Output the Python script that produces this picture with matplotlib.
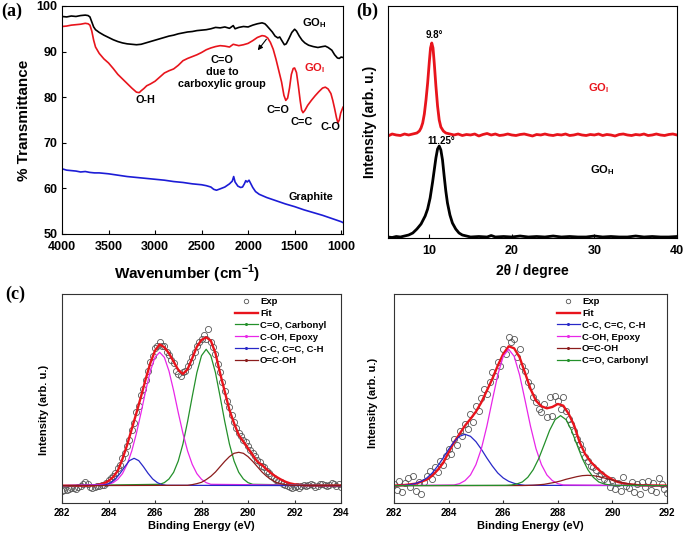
import numpy as np
import matplotlib
matplotlib.use('Agg')
import matplotlib.pyplot as plt
from matplotlib.lines import Line2D

plt.rcParams.update({
    'font.family': 'Liberation Sans',
    'font.weight': 'bold',
    'axes.labelweight': 'bold',
    'mathtext.fontset': 'custom',
    'mathtext.rm': 'Liberation Sans:bold',
    'mathtext.bf': 'Liberation Sans:bold',
    'xtick.direction': 'in',
    'ytick.direction': 'in',
})

# ---------------- (a) FTIR ----------------
wn_goh = [4000, 3950, 3900, 3850, 3800, 3750, 3720, 3700, 3680, 3660, 3640, 3600, 3550, 3500,
          3450, 3400, 3350, 3300, 3250, 3200, 3150, 3100, 3050, 3000, 2950, 2900, 2850, 2800,
          2750, 2700, 2650, 2600, 2550, 2500, 2450, 2400, 2350, 2300, 2250, 2200, 2160, 2140,
          2100, 2050, 2000, 1950, 1900, 1850, 1820, 1800, 1770, 1740, 1710, 1680, 1660, 1640,
          1610, 1590, 1560, 1530, 1500, 1480, 1450, 1420, 1390, 1350, 1300, 1250, 1200, 1170,
          1140, 1100, 1070, 1040, 1020, 1000, 980]
t_goh = [97.7, 97.6, 97.8, 97.7, 97.9, 98.0, 97.9, 97.6, 96.5, 95.4, 94.8, 94.2, 93.6, 93.1,
         92.6, 92.2, 91.9, 91.7, 91.6, 91.5, 91.6, 91.9, 92.2, 92.5, 92.8, 93.1, 93.4, 93.6,
         93.9, 94.1, 94.3, 94.4, 94.6, 94.7, 94.8, 95.0, 95.3, 95.2, 95.4, 95.1, 95.7, 95.0,
         95.3, 95.5, 95.4, 95.8, 96.1, 96.3, 96.1, 95.7, 95.0, 94.3, 93.4, 93.0, 93.2, 92.5,
         91.5, 91.7, 92.9, 94.2, 94.9, 94.5, 93.4, 92.5, 91.9, 91.4, 91.1, 90.9, 91.1, 91.2,
         90.9, 90.3, 89.3, 88.6, 88.5, 88.8, 88.7]

wn_goi = [4000, 3950, 3900, 3850, 3800, 3750, 3720, 3700, 3680, 3660, 3640, 3600, 3550, 3500,
          3450, 3400, 3350, 3300, 3250, 3200, 3170, 3150, 3120, 3090, 3050, 3000, 2950, 2900,
          2850, 2800, 2750, 2700, 2650, 2600, 2550, 2500, 2450, 2400, 2350, 2300, 2250, 2200,
          2160, 2100, 2050, 2000, 1950, 1900, 1850, 1820, 1790, 1760, 1730, 1700, 1670, 1640,
          1615, 1595, 1575, 1555, 1535, 1515, 1500, 1480, 1460, 1440, 1425, 1410, 1390, 1360,
          1320, 1280, 1240, 1200, 1170, 1140, 1110, 1090, 1070, 1050, 1035, 1020, 1005, 990, 980]
t_goi = [95.5, 95.6, 95.8, 95.9, 96.0, 96.2, 96.1, 95.8, 94.5, 92.5, 91.0, 89.6, 88.4, 87.5,
         86.3, 85.0, 84.0, 83.0, 82.0, 81.1, 81.0, 81.4, 81.9, 82.5, 82.9, 83.5, 84.4, 85.3,
         85.8, 86.2, 87.0, 88.0, 88.5, 88.9, 89.3, 89.8, 90.4, 90.8, 91.1, 91.3, 91.2, 91.0,
         91.6, 91.3, 91.5, 91.8, 92.4, 93.1, 93.5, 93.4, 93.0, 92.0, 90.5, 88.3, 85.8, 83.3,
         80.4, 79.3, 79.8, 82.0, 85.0, 86.3, 86.4, 85.4, 82.5, 79.2, 77.2, 76.6, 77.1, 78.2,
         79.3, 80.3, 81.2, 82.0, 82.2, 81.8, 80.8, 79.3, 77.5, 75.5, 74.4, 75.0, 76.5, 77.3, 77.8]

wn_gr = [4000, 3950, 3900, 3850, 3800, 3750, 3700, 3650, 3600, 3500, 3400, 3300, 3200, 3100,
         3000, 2900, 2800, 2700, 2600, 2500, 2450, 2400, 2370, 2340, 2300, 2250, 2200, 2170,
         2155, 2140, 2110, 2080, 2060, 2040, 2025, 2010, 1990, 1975, 1950, 1920, 1880, 1800,
         1700, 1600, 1500, 1400, 1300, 1200, 1100, 1000, 980]
t_gr = [64.3, 64.0, 63.9, 63.8, 63.6, 63.7, 63.5, 63.4, 63.4, 63.2, 62.9, 62.6, 62.4, 62.2,
        62.0, 61.8, 61.5, 61.3, 61.0, 60.8, 60.6, 60.3, 59.8, 59.6, 59.9, 60.3, 61.0, 61.6,
        62.6, 61.4, 60.5, 60.2, 60.3, 61.0, 61.7, 61.4, 61.8, 61.2, 60.2, 59.3, 58.7, 58.0,
        57.3, 56.6, 56.0, 55.3, 54.7, 54.1, 53.4, 52.7, 52.5]

# ---------------- (b) XRD ----------------
tt_goi = [5.0, 5.5, 6.0, 6.5, 7.0, 7.5, 8.0, 8.5, 8.8, 9.0, 9.2, 9.4, 9.6, 9.8, 10.0, 10.15,
          10.3, 10.45, 10.6, 10.8, 11.0, 11.2, 11.4, 11.7, 12.0, 12.5, 13.0, 13.5, 14.0, 14.5,
          15.0, 15.5, 16.0, 16.5, 17.0, 17.5, 18.0, 18.5, 19.0, 19.5, 20.0, 20.5, 21.0, 21.5,
          22.0, 22.5, 23.0, 23.5, 24.0, 24.5, 25.0, 25.5, 26.0, 26.5, 27.0, 27.5, 28.0, 28.5,
          29.0, 29.5, 30.0, 30.5, 31.0, 31.5, 32.0, 32.5, 33.0, 33.5, 34.0, 34.5, 35.0, 35.5,
          36.0, 36.5, 37.0, 37.5, 38.0, 38.5, 39.0, 39.5, 40.0]
i_goi = [102, 104, 103, 102.5, 104, 103, 104, 105, 107, 110, 115, 124, 138, 155, 176, 190,
         195, 190, 175, 152, 132, 118, 111, 107, 105, 104, 103, 104, 102.5, 103.5,
         103, 104, 102, 103.5, 104.5, 103, 104, 102.5, 103, 104, 103, 102.5, 103.5, 104,
         103, 102, 103.5, 103, 104, 103, 102.5, 103.5, 103, 104, 102.5, 103, 104, 103,
         102.5, 103.5, 103, 104, 102.5, 103.5, 103, 102, 103.5, 104, 103, 102.5, 103.5, 103,
         104, 102.5, 103, 104, 103, 102.5, 103.5, 104, 103]

tt_goh = [5.0, 5.5, 6.0, 6.5, 7.0, 7.5, 8.0, 8.5, 9.0, 9.5, 9.8, 10.1, 10.4, 10.6, 10.8, 11.0,
          11.2, 11.4, 11.6, 11.8, 12.0, 12.2, 12.5, 12.8, 13.2, 13.6, 14.0, 14.5, 15.0, 16.0,
          17.0, 17.5, 18.0, 19.0, 20.0, 21.0, 22.0, 23.0, 24.0, 25.0, 26.0, 27.0, 28.0, 29.0,
          30.0, 31.0, 32.0, 33.0, 34.0, 35.0, 36.0, 37.0, 38.0, 39.0, 40.0]
i_goh = [1, 0.5, 1.5, 1, 2, 3, 5, 9, 14, 22, 29, 40, 56, 68, 80, 89,
         92, 88, 78, 62, 47, 35, 23, 15, 9, 5, 3, 2, 1, 1.5,
         1, 2.5, 1, 1.5, 1, 2, 1, 1.5, 1, 2, 1, 1.5, 1, 1, 2, 1, 1.5, 1, 1, 2, 1, 1.5, 1, 1, 1.5]

# ---------------- (c) XPS, left ----------------
e_exp_l = [round(282 + 0.1 * k, 1) for k in range(121)]
i_exp_l = [-15, -12, -14, -10, -8, -6, -9, -4, 0, 6, 10, 4, -3, -8, -4, -2, -1, 2, 3, 8,
           16, 22, 30, 38, 52, 62, 82, 98, 118, 138, 168, 188, 222, 240, 272, 290, 318, 345, 372, 388,
           412, 418, 432, 418, 420, 400, 392, 378, 368, 345, 335, 328, 340, 345, 358, 370, 385, 400, 420, 430,
           440, 452, 440, 469, 430, 415, 395, 365, 340, 310, 285, 255, 235, 212, 192, 172, 158, 150, 138, 130,
           120, 108, 98, 88, 78, 70, 60, 55, 45, 38, 30, 24, 18, 14, 10, 6, 2, 0, -4, -8,
           -5, -2, -6, 0, 3, -2, 1, 5, 2, -3, 0, 4, 6, 2, -2, 3, 8, 5, 0, 4, -3]

e_fit_l = [282.0, 283.0, 283.4, 283.6, 283.8, 284.0, 284.2, 284.4, 284.6, 284.8, 285.0, 285.2,
           285.4, 285.6, 285.8, 286.0, 286.2, 286.4, 286.6, 286.8, 287.0, 287.2, 287.4, 287.6,
           287.8, 288.0, 288.2, 288.4, 288.6, 288.8, 289.0, 289.2, 289.4, 289.6, 289.8, 290.0,
           290.2, 290.4, 290.6, 290.8, 291.0, 291.2, 291.4, 291.6, 291.8, 292.0, 292.4, 294.0]
i_fit_l = [0, 0, 1, 3, 7, 14, 26, 45, 80, 122, 170, 218,
           268, 320, 368, 405, 424, 415, 397, 372, 347, 335, 349, 382,
           417, 437, 445, 435, 397, 337, 282, 227, 187, 152, 132, 112,
           92, 72, 62, 49, 37, 27, 19, 12, 7, 4, 1, 0]

e_co_l = [282.0, 286.2, 286.4, 286.6, 286.8, 287.0, 287.2, 287.4, 287.6, 287.8, 288.0, 288.2,
          288.4, 288.6, 288.8, 289.0, 289.2, 289.4, 289.6, 289.8, 290.0, 290.2, 294.0]
i_co_l = [0, 4, 9, 20, 40, 74, 125, 192, 267, 339, 390, 409,
          390, 339, 267, 192, 125, 74, 40, 20, 9, 4, 0]

e_coh_l = [282.0, 284.0, 284.2, 284.4, 284.6, 284.8, 285.0, 285.2, 285.4, 285.6, 285.8, 286.0,
           286.2, 286.4, 286.6, 286.8, 287.0, 287.2, 287.4, 287.6, 287.8, 288.0, 288.2, 288.4, 294.0]
i_coh_l = [0, 4, 9, 19, 36, 64, 104, 157, 219, 285, 344, 385,
           400, 385, 344, 285, 219, 157, 104, 64, 36, 19, 9, 4, 0]

e_cc_l = [282.0, 283.7, 283.9, 284.1, 284.3, 284.5, 284.7, 284.9, 285.1, 285.3, 285.5, 285.7,
          285.9, 286.1, 286.3, 286.5, 294.0]
i_cc_l = [0, 1, 3, 9, 20, 37, 57, 75, 82, 75, 57, 37, 20, 9, 3, 1, 0]

e_cooh_l = [282.0, 287.4, 287.6, 287.8, 288.0, 288.2, 288.4, 288.6, 288.8, 289.0, 289.2, 289.4,
            289.6, 289.8, 290.0, 290.2, 290.4, 290.6, 290.8, 291.0, 291.2, 291.4, 291.6, 291.8, 294.0]
i_cooh_l = [0, 1, 3, 6, 10, 18, 28, 41, 57, 73, 87, 97,
            100, 97, 87, 73, 57, 41, 28, 18, 10, 6, 3, 1, 0]

# ---------------- (c) XPS, right ----------------
e_exp_r = [round(282 + 0.1 * k, 1) for k in range(101)]
i_exp_r = [5, -12, 15, -20, 8, 22, -5, 28, -15, 10, -25, 12, 30, 45, 20, 55, 40, 75, 62, 88,
           110, 95, 140, 122, 165, 150, 185, 170, 215, 190, 240, 225, 262, 290, 275, 310, 340, 330, 372, 360,
           410, 395, 445, 430, 440, 385, 410, 360, 345, 310, 300, 265, 250, 230, 220, 245, 205, 265, 210, 270,
           255, 230, 265, 225, 200, 185, 165, 140, 125, 110, 85, 75, 60, 55, 48, 30, 35, 20, 12, -5,
           18, -10, 8, -15, 25, 0, -8, 12, -20, 5, -25, 10, -5, 15, -12, 8, -18, 22, 5, -10, -22]

e_fit_r = [282.0, 282.4, 282.8, 283.2, 283.4, 283.6, 283.8, 284.0, 284.2, 284.4, 284.6, 284.8,
           285.0, 285.2, 285.4, 285.6, 285.8, 286.0, 286.2, 286.4, 286.6, 286.8, 287.0, 287.2,
           287.4, 287.6, 287.8, 288.0, 288.2, 288.4, 288.6, 288.8, 289.0, 289.2, 289.4, 289.6,
           289.8, 290.0, 290.2, 290.4, 290.6, 291.0, 292.0]
i_fit_r = [0, 2, 6, 18, 30, 47, 68, 100, 130, 155, 180, 200,
           222, 250, 285, 320, 360, 395, 418, 412, 385, 338, 290, 255,
           238, 232, 236, 245, 240, 215, 180, 130, 95, 72, 55, 40,
           28, 18, 11, 7, 4, 1, 0]

e_cc_r = [282.0, 282.4, 282.6, 282.8, 283.0, 283.2, 283.4, 283.6, 283.8, 284.0, 284.2, 284.4,
          284.6, 284.8, 285.0, 285.2, 285.4, 285.6, 285.8, 286.0, 286.2, 286.4, 286.6, 286.8, 292.0]
i_cc_r = [0, 1, 3, 7, 13, 23, 38, 59, 83, 109, 132, 148,
          154, 148, 132, 109, 83, 59, 38, 23, 13, 7, 3, 1, 0]

e_coh_r = [282.0, 284.2, 284.4, 284.6, 284.8, 285.0, 285.2, 285.4, 285.6, 285.8, 286.0, 286.2,
           286.4, 286.6, 286.8, 287.0, 287.2, 287.4, 287.6, 287.8, 288.0, 288.2, 292.0]
i_coh_r = [0, 2, 6, 15, 32, 63, 111, 178, 256, 332, 388, 409,
           388, 332, 256, 178, 111, 63, 32, 15, 6, 2, 0]

e_cooh_r = [282.0, 286.7, 286.9, 287.1, 287.3, 287.5, 287.7, 287.9, 288.1, 288.3, 288.5, 288.7,
            288.9, 289.1, 289.3, 289.5, 289.7, 289.9, 290.1, 290.3, 290.5, 290.7, 290.9, 291.1,
            291.3, 291.5, 292.0]
i_cooh_r = [0, 0.3, 0.7, 1.4, 2.5, 4, 7, 10, 14, 19, 23, 27,
            30, 31, 30, 27, 23, 19, 14, 10, 7, 4, 2.5, 1.4, 0.7, 0.3, 0]

e_co_r = [282.0, 286.1, 286.3, 286.5, 286.7, 286.9, 287.1, 287.3, 287.5, 287.7, 287.9, 288.1,
          288.3, 288.5, 288.7, 288.9, 289.1, 289.3, 289.5, 289.7, 289.9, 290.1, 292.0]
i_co_r = [0, 1, 2, 5, 11, 25, 48, 81, 123, 166, 198, 210,
          198, 166, 123, 81, 48, 25, 11, 5, 2, 1, 0]

RED = '#e8141c'
BLUE = '#1c1cd6'
GREEN = '#23902a'
MAGENTA = '#e826e8'
XBLUE = '#2828c8'
BROWN = '#8b1c1c'

fig = plt.figure(figsize=(6.83, 5.34), dpi=100)

# ===== (a) =====
ax = fig.add_axes([0.0908, 0.5618, 0.4114, 0.4270])
ax.plot(wn_goh, t_goh, color='black', lw=1.2)
ax.plot(wn_goi, t_goi, color=RED, lw=1.2)
ax.plot(wn_gr, t_gr, color=BLUE, lw=1.2)
ax.set_xlim(4000, 980)
ax.set_ylim(50, 100)
ax.set_xticks([4000, 3500, 3000, 2500, 2000, 1500, 1000])
ax.set_yticks([50, 60, 70, 80, 90, 100])
ax.tick_params(labelsize=9, length=3)
ax.tick_params(axis='x', pad=5)
ax.set_xlabel('Wavenumber (cm$^{-1}$)', fontsize=11)
ax.xaxis.set_label_coords(0.445, -0.125)
ax.set_ylabel('% Transmittance', fontsize=11, labelpad=4)
ax.text(1420, 96.2, r'GO$_{\mathrm{H}}$', fontsize=8, ha='left', va='center')
ax.text(1400, 86.3, r'GO$_{\mathrm{I}}$', fontsize=8, ha='left', va='center', color=RED)
ax.text(2280, 85.6, 'C=O\ndue to\ncarboxylic group', fontsize=7.8, ha='center', va='center',
        linespacing=1.25)
ax.annotate('', xy=(1914, 89.8), xytext=(1785, 93.2),
            arrowprops=dict(arrowstyle='-|>', color='black', lw=0.8, mutation_scale=7))
ax.text(3108, 79.4, 'O-H', fontsize=7.8, ha='center', va='center')
ax.text(1677, 77.2, 'C=O', fontsize=7.8, ha='center', va='center')
ax.text(1430, 74.6, 'C=C', fontsize=7.8, ha='center', va='center')
ax.text(1118, 73.4, 'C-O', fontsize=7.8, ha='center', va='center')
ax.text(1323, 58.1, 'Graphite', fontsize=7.8, ha='center', va='center')

# ===== (b) =====
ax = fig.add_axes([0.5681, 0.5543, 0.4231, 0.4345])
ax.plot(tt_goi, i_goi, color=RED, lw=2.0)
ax.plot(tt_goh, i_goh, color='black', lw=2.0)
ax.set_xlim(5, 40)
ax.set_ylim(0, 232)
ax.set_xticks([10, 20, 30, 40])
ax.set_yticks([])
ax.tick_params(labelsize=9, length=3, pad=5)
ax.set_xlabel('2θ / degree', fontsize=10, labelpad=5)
ax.set_ylabel('Intensity (arb. u.)', fontsize=10, labelpad=8)
ax.text(10.6, 203, '9.8°', fontsize=7, ha='center', va='center')
ax.text(11.5, 97, '11.25°', fontsize=7, ha='center', va='center')
ax.text(30.5, 150, r'GO$_{\mathrm{I}}$', fontsize=8, ha='center', va='center', color=RED)
ax.text(31.0, 68, r'GO$_{\mathrm{H}}$', fontsize=8, ha='center', va='center')


def xps_axes(rect, xmax, e_exp, i_exp, fit, comps, anchor_x, ylab_xy):
    ax = fig.add_axes(rect)
    ax.plot(e_exp, i_exp, ls='none', marker='o', ms=4.4, mfc='none', mec='#555555', mew=0.6)
    ax.plot(fit[0], fit[1], color=RED, lw=1.7)
    handles = [Line2D([], [], ls='none', marker='o', ms=3.2, mfc='none', mec='#555555', mew=0.6),
               Line2D([], [], color=RED, lw=1.7)]
    labels = ['Exp', 'Fit']
    for e, i, c, lab in comps:
        ax.plot(e, i, color=c, lw=0.9)
        handles.append(Line2D([], [], color=c, lw=0.9, marker='o', ms=1.2))
        labels.append(lab)
    ax.set_xlim(282, xmax)
    ax.set_ylim(-52, 575)
    ax.set_xticks(range(282, xmax + 1, 2))
    ax.set_yticks([])
    ax.tick_params(labelsize=7, length=2.5, color='#333333')
    for s in ax.spines.values():
        s.set_color('#333333')
        s.set_linewidth(0.8)
    ax.set_xlabel('Binding Energy (eV)', fontsize=8, labelpad=2)
    ax.set_ylabel('Intensity (arb. u.)', fontsize=8)
    ax.yaxis.set_label_coords(*ylab_xy)
    ax.legend(handles, labels, loc='upper left', bbox_to_anchor=(anchor_x, 0.985),
              frameon=False, fontsize=6.8, handlelength=2.4, handletextpad=0.25,
              labelspacing=0.3, borderpad=0, borderaxespad=0, numpoints=1)
    return ax


xps_axes([0.0908, 0.0581, 0.4085, 0.3914], 294, e_exp_l, i_exp_l, (e_fit_l, i_fit_l),
         [(e_co_l, i_co_l, GREEN, 'C=O, Carbonyl'),
          (e_coh_l, i_coh_l, MAGENTA, 'C-OH, Epoxy'),
          (e_cc_l, i_cc_l, XBLUE, 'C-C, C=C, C-H'),
          (e_cooh_l, i_cooh_l, BROWN, 'O=C-OH')], 0.62, (-0.045, 0.445))

xps_axes([0.5769, 0.0581, 0.3997, 0.3914], 292, e_exp_r, i_exp_r, (e_fit_r, i_fit_r),
         [(e_cc_r, i_cc_r, XBLUE, 'C-C, C=C, C-H'),
          (e_coh_r, i_coh_r, MAGENTA, 'C-OH, Epoxy'),
          (e_cooh_r, i_cooh_r, BROWN, 'O=C-OH'),
          (e_co_r, i_co_r, GREEN, 'C=O, Carbonyl')], 0.597, (-0.058, 0.478))

fig.text(0.002, 0.995, '(a)', family='Liberation Serif', fontsize=13, fontweight='bold', va='top')
fig.text(0.522, 0.995, '(b)', family='Liberation Serif', fontsize=13, fontweight='bold', va='top')
fig.text(0.008, 0.465, '(c)', family='Liberation Serif', fontsize=13, fontweight='bold', va='top')

fig.savefig('out.png', dpi=100)
